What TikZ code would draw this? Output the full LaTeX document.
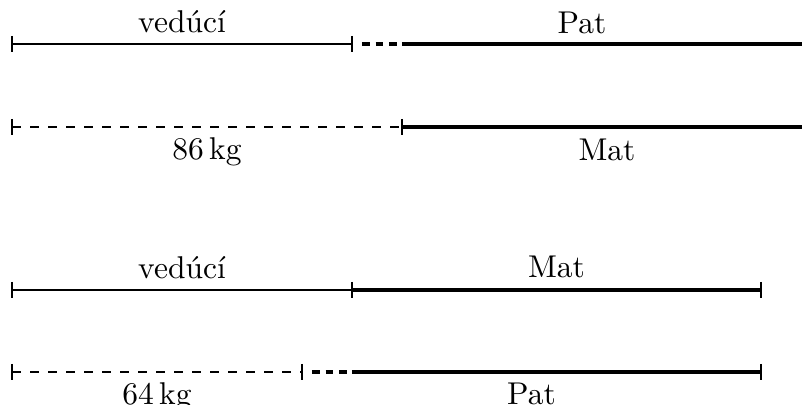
\documentclass[tikz,border=0pt]{standalone}
\begin{document}
\begin{tikzpicture}[x=0.3333pt,y=-0.3333pt,
  every node/.style={font=\fontsize{10.5}{12.6}\selectfont},
  thinseg/.style={line width=0.45pt},
  thickseg/.style={line width=1.6pt},
  dotseg/.style={line width=1.6pt, dash pattern=on 2.5pt off 2pt},
  dashseg/.style={line width=0.45pt, dashed},
  tickmark/.style={line width=0.45pt}]
\clip (0,0) rectangle (802,405);
\useasboundingbox (0,0) rectangle (802,405);
% row 1
\coordinate (a1) at (12,44);
\coordinate (b1) at (352,44);
\coordinate (c1) at (362,44);
\coordinate (d1) at (402,44);
\coordinate (e1) at (812,44);
% row 2
\coordinate (a2) at (12,127);
\coordinate (d2) at (402,127);
\coordinate (e2) at (812,127);
% row 3
\coordinate (a3) at (12,290);
\coordinate (b3) at (352,290);
\coordinate (f3) at (761,290);
% row 4
\coordinate (a4) at (12,372);
\coordinate (g4) at (302,372);
\coordinate (h4) at (312,372);
\coordinate (b4) at (352,372);
\coordinate (f4) at (761,372);

\draw[thinseg] (a1) -- node[above] (lv1) {vedúcí} (b1);
\draw[dotseg] (c1) -- (d1);
\draw[thickseg] (d1) -- (e1);
\path (b1) -- node[above] (lp1) {Pat} (e1);

\draw[dashseg] (a2) -- node[below] (lk1) {86\,kg} (d2);
\draw[thickseg] (d2) -- node[below] (lm1) {Mat} (e2);

\draw[thinseg] (a3) -- node[above] (lv2) {vedúcí} (b3);
\draw[thickseg] (b3) -- node[above] (lm2) {Mat} (f3);

\draw[dashseg] (a4) -- node[below] (lk2) {64\,kg} (g4);
\draw[dotseg] (h4) -- (b4);
\draw[thickseg] (b4) -- (f4);
\path (g4) -- node[below] (lp2) {Pat} (f4);

\foreach \p in {a1,b1,a2,d2,a3,b3,f3,a4,g4,f4}
  \draw[tickmark] (\p) ++(0,-8) -- ++(0,16);
\end{tikzpicture}
\end{document}
